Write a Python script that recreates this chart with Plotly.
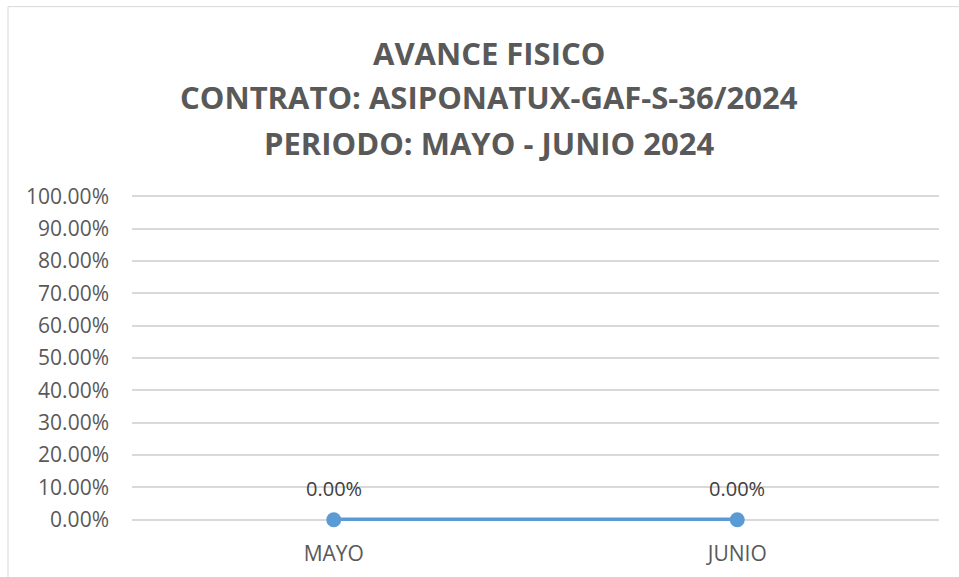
import plotly.graph_objects as go

categories = ["MAYO", "JUNIO"]
avance = [0.0, 0.0]
y_ticks = [0.0, 0.1, 0.2, 0.3, 0.4, 0.5, 0.6, 0.7, 0.8, 0.9, 1.0]
y_tick_labels = ["%.2f%%" % (v * 100) for v in y_ticks]
title_lines = ["AVANCE FISICO", "CONTRATO: ASIPONATUX-GAF-S-36/2024", "PERIODO: MAYO - JUNIO 2024"]

FONT = "Open Sans"
PLOT_LEFT, PLOT_RIGHT = 132, 939
PLOT_TOP, PLOT_BOTTOM = 196, 520
PAD = 0.004
title_centers = [52, 96.5, 143]
TITLE_CX = 489

fig = go.Figure()
fig.add_trace(go.Scatter(
    x=categories, y=avance, mode="lines+markers",
    line=dict(color="#5b9bd5", width=4.5),
    marker=dict(color="#5b9bd5", size=15),
    cliponaxis=False, hoverinfo="skip", showlegend=False,
))

for c, v in zip(categories, avance):
    fig.add_annotation(x=c, y=v, text="%.2f%%" % (v * 100), showarrow=False,
                       yshift=31, font=dict(family=FONT, size=20, color="#404040"))

unit = PLOT_BOTTOM - PLOT_TOP  # pixels per 1.0
h = unit * (1 + 2 * PAD)
bottom_px = PLOT_BOTTOM + PAD * unit
w = PLOT_RIGHT - PLOT_LEFT


def paper_y(py):
    return (bottom_px - py) / h


def paper_x(px):
    return (px - PLOT_LEFT) / w


for line, cy in zip(title_lines, title_centers):
    fig.add_annotation(xref="paper", yref="paper", x=paper_x(TITLE_CX), y=paper_y(cy),
                       yanchor="middle", xanchor="center",
                       text="<b>%s</b>" % line, showarrow=False,
                       font=dict(family=FONT, size=31, color="#595959"))

fig.add_shape(type="rect", xref="paper", yref="paper",
              x0=paper_x(8), x1=2, y0=-2, y1=paper_y(6),
              line=dict(color="#d9d9d9", width=1), layer="below")

fig.update_layout(
    width=959, height=577,
    margin=dict(l=PLOT_LEFT, r=959 - PLOT_RIGHT, t=PLOT_TOP - PAD * unit, b=577 - bottom_px),
    paper_bgcolor="white", plot_bgcolor="white",
    font=dict(family=FONT, color="#595959"),
    xaxis=dict(range=[-0.5, 1.5], showgrid=False, showline=False, zeroline=False,
               automargin=False,
               ticks="", ticklabelstandoff=18, tickfont=dict(size=21, color="#595959")),
    yaxis=dict(range=[-PAD, 1 + PAD], tickvals=y_ticks, ticktext=y_tick_labels,
               showgrid=True, gridcolor="#d9d9d9", gridwidth=1.5, zeroline=False,
               automargin=False,
               showline=False, ticks="", ticklabelstandoff=22,
               tickfont=dict(size=21, color="#595959")),
)

fig.write_html("out.html", config={"displayModeBar": False},
               post_script="document.body.style.margin='0px';")
